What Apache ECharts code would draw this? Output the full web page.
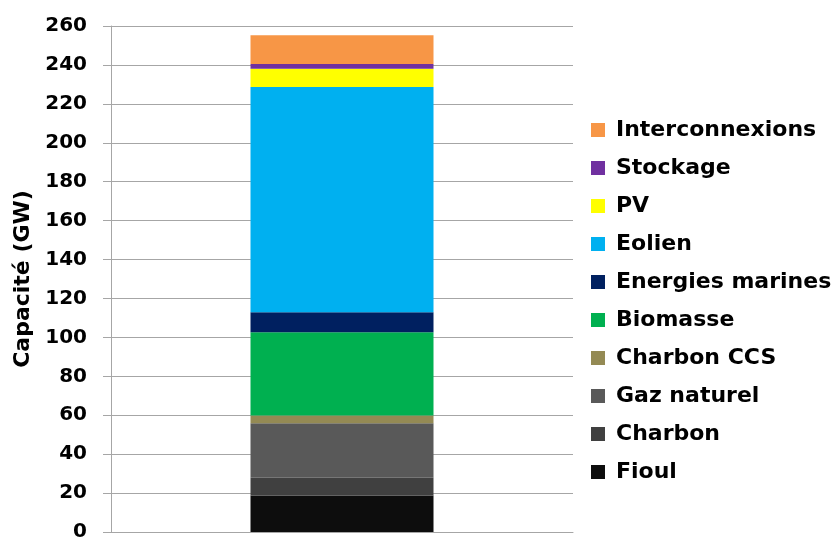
<!DOCTYPE html>
<html>
<head>
<meta charset="utf-8">
<script src="https://cdn.jsdelivr.net/npm/echarts@6/dist/echarts.min.js"></script>
<style>
  html, body { margin: 0; padding: 0; background: #fff; }
  #chart { width: 833px; height: 542px; }
</style>
</head>
<body>
<div id="chart"></div>
<script>
// capacity mix (GW), bottom to top of the stack
const categories = [""];
const seriesNames = ["Fioul", "Charbon", "Gaz naturel", "Charbon CCS", "Biomasse",
  "Energies marines", "Eolien", "PV", "Stockage", "Interconnexions"];
const values = [18.8, 9.1, 28.0, 3.9, 42.9, 10.2, 115.8, 9.3, 2.5, 14.8];
const colors = ["#0d0d0d", "#404040", "#595959", "#948a54", "#00b050",
  "#002060", "#00b0f0", "#ffff00", "#7030a0", "#f79646"];
const yTicks = { min: 0, max: 260, step: 20 };

const font = "DejaVu Sans";

const chart = echarts.init(document.getElementById("chart"));

const series = seriesNames.map((name, i) => ({
  name: name,
  type: "bar",
  stack: "total",
  barWidth: 183,
  barCategoryGap: 0,
  data: [values[i]],
  itemStyle: { color: colors[i] },
  emphasis: { disabled: true },
}));

chart.setOption({
  animation: false,
  grid: { left: 111, top: 26, width: 462, height: 511 },
  legend: {
    orient: "vertical",
    left: 586,
    top: 112,
    icon: "rect",
    itemWidth: 14,
    itemHeight: 14,
    itemGap: 12,
    data: seriesNames.slice().reverse(),
    textStyle: {
      fontFamily: font,
      fontWeight: "bold",
      fontSize: 22,
      color: "#000",
      lineHeight: 26,
      padding: [0, 0, 0, 6],
    },
  },
  xAxis: {
    type: "category",
    data: categories,
    axisLine: { lineStyle: { color: "#a6a6a6" } },
    axisTick: { show: false },
    axisLabel: { show: false },
  },
  yAxis: {
    type: "value",
    min: yTicks.min,
    max: yTicks.max,
    interval: yTicks.step,
    name: "Capacité (GW)",
    nameLocation: "middle",
    nameGap: 74,
    nameTextStyle: {
      fontFamily: font,
      fontWeight: "bold",
      fontSize: 22,
      color: "#000",
    },
    axisLine: { show: true, lineStyle: { color: "#a6a6a6" } },
    axisTick: { show: true, length: 8, lineStyle: { color: "#a6a6a6" } },
    splitLine: { lineStyle: { color: "#a6a6a6" } },
    axisLabel: {
      margin: 24,
      fontFamily: font,
      fontWeight: "bold",
      fontSize: 20,
      color: "#000",
    },
  },
  series: series,
});
</script>
</body>
</html>
